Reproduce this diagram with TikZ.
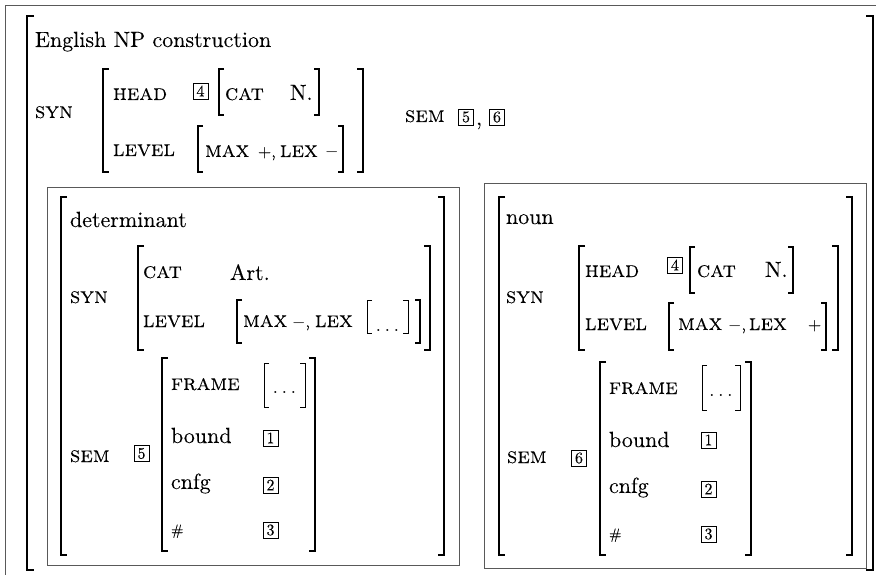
\documentclass[tikz,border=0pt]{standalone}
\usepackage{fontspec}
\setmainfont{lmroman10-regular.otf}[SmallCapsFont=lmromancaps10-regular.otf, Ligatures=TeX, FakeBold=0.06]
\tikzset{
  brk/.style={line width=1.2pt, black},
  sbrk/.style={line width=0.8pt, black},
  frm/.style={line width=0.9pt, draw=black!65},
  txt/.style={anchor=base west, inner sep=0pt, outer sep=0pt, font=\fontsize{22}{26}\selectfont},
  sc/.style={txt, font=\fontsize{22.5}{26}\selectfont\scshape},
  sign/.style={txt, font=\fontsize{17}{20}\selectfont},
  dots/.style={txt, anchor=base},
  hash/.style={txt, font=\fontsize{15}{15}\selectfont},
  tag/.style={draw, line width=0.6pt, minimum width=15pt, minimum height=16pt, inner sep=0pt, font=\fontsize{16}{16}\selectfont},
}
\newcommand{\LBk}[4][6]{\draw[brk] ({#2+#1},#3) -- (#2,#3) -- (#2,#4) -- ({#2+#1},#4);}
\newcommand{\RBk}[4][6]{\draw[brk] ({#2-#1},#3) -- (#2,#3) -- (#2,#4) -- ({#2-#1},#4);}
\newcommand{\LBs}[3]{\draw[sbrk] ({#1+5},#2) -- (#1,#2) -- (#1,#3) -- ({#1+5},#3);}
\newcommand{\RBs}[3]{\draw[sbrk] ({#1-5},#2) -- (#1,#2) -- (#1,#3) -- ({#1-5},#3);}
\begin{document}
\begin{tikzpicture}[x=1pt,y=-1pt]
\useasboundingbox (0,0) rectangle (876,575);
\clip (0,0) rectangle (876,575);
\draw[frm] (5,5) rectangle (900,600);
% outer AVM
\LBk[7]{27}{16}{570}
\RBk[7]{873}{16}{570}
\node[txt] (title) at (35,47) {English NP construction};
\node[sc] (syn0) at (35,118) {syn};
\LBk{103}{69}{172} \RBk{363}{69}{172}
\node[sc] (head0) at (113,100) {head};
\node[tag] (t4a) at (200.5,91) {4};
\LBk[5]{219}{69}{115} \RBk[5]{319}{69}{115}
\node[sc] (cat0) at (225,100) {cat};
\node[txt] (n0) at (290,100) {N.};
\node[sc] (level0) at (113,156) {level};
\LBk[5]{198}{126}{172} \RBk[5]{343}{126}{172}
\node[sc] (max0) at (205,157) {max};
\node[sign] (plus0) at (258,157) {+,};
\node[sc] (lex0) at (280,157) {lex};
\node[sign] (minus0) at (325,157) {$-$};
\node[sc] (sem0) at (405,122) {sem};
\node[tag] (t5a) at (466,117) {5};
\node[txt] (comma0) at (476,125) {,};
\node[tag] (t6a) at (497,117) {6};
% determinant
\draw[frm] (47,187) rectangle (459,565);
\LBk{61}{197}{555} \RBk{444}{197}{555}
\node[txt] (det) at (70,227) {determinant};
\node[sc] (dsyn) at (70,303) {syn};
\LBk{138}{246}{350} \RBk{430}{246}{350}
\node[sc] (dcat) at (143,278) {cat};
\node[txt] (dart) at (230,280) {Art.};
\node[sc] (dlevel) at (143,327) {level};
\LBk[5]{237}{300}{343} \RBk[5]{420}{300}{343}
\node[sc] (dmax) at (243,327) {max};
\node[sign] (dminus) at (292,327) {$-$,};
\node[sc] (dlex) at (315,327) {lex};
\LBs{367}{300}{333} \RBs{408}{300}{333}
\node[dots] (ddots1) at (387.5,331) {$\ldots$};
\node[sc] (dsem) at (70,462) {sem};
\node[tag] (t5b) at (141.5,453.5) {5};
\LBk{162}{358}{551} \RBk{315}{358}{551}
\node[sc] (dframe) at (171,390) {frame};
\LBs{264}{363}{407} \RBs{305}{363}{407}
\node[dots] (ddots2) at (284.5,393) {$\ldots$};
\node[txt] (dbound) at (171,443) {bound};
\node[tag] (t1b) at (270.5,438) {1};
\node[txt] (dcnfg) at (171,489) {cnfg};
\node[tag] (t2b) at (270.5,485) {2};
\node[hash] (dhash) at (171,535) {\#};
\node[tag] (t3b) at (270.5,530) {3};
% noun
\draw[frm] (484,183) rectangle (866,568);
\LBk{499}{197}{555} \RBk{852}{197}{555}
\node[txt] (noun) at (506,224) {noun};
\node[sc] (nsyn) at (506,303) {syn};
\LBk{579}{246}{350} \RBk{838}{246}{350}
\node[sc] (nhead) at (585,277) {head};
\node[tag] (t4b) at (675,265) {4};
\LBk[5]{690}{247}{293} \RBk[5]{793}{247}{293}
\node[sc] (ncat) at (697,277) {cat};
\node[txt] (nn) at (765,277) {N.};
\node[sc] (nlevel) at (585,330) {level};
\LBk[5]{669}{303}{350} \RBk[5]{826}{303}{350}
\node[sc] (nmax) at (678,330) {max};
\node[sign] (nminus) at (728,330) {$-$,};
\node[sc] (nlex) at (749,330) {lex};
\node[sign] (nplus) at (808,330) {+};
\node[sc] (nsem) at (507,463) {sem};
\node[tag] (t6b) at (579,458) {6};
\LBk{600}{362}{555} \RBk{751}{362}{555}
\node[sc] (nframe) at (609,394) {frame};
\LBs{702}{365}{410} \RBs{740}{365}{410}
\node[dots] (ndots) at (721,396) {$\ldots$};
\node[txt] (nbound) at (609,447) {bound};
\node[tag] (t1c) at (708.5,440) {1};
\node[txt] (ncnfg) at (609,493) {cnfg};
\node[tag] (t2c) at (708.5,489) {2};
\node[hash] (nhash) at (609,539) {\#};
\node[tag] (t3c) at (708.5,534) {3};
\end{tikzpicture}
\end{document}
